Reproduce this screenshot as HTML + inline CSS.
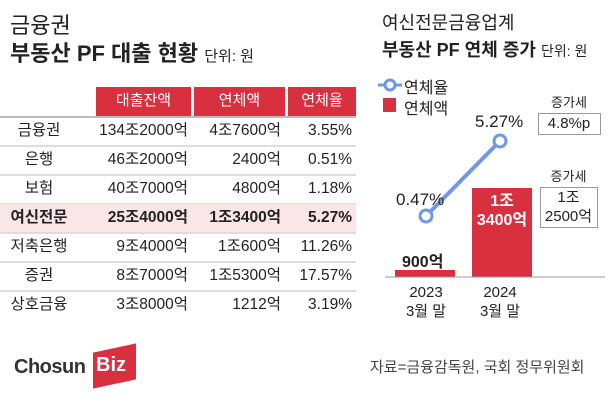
<!DOCTYPE html>
<html><head><meta charset="utf-8"><style>
body{margin:0;width:616px;height:400px;background:#fff;position:relative;overflow:hidden;font-family:"Liberation Sans","Noto Sans CJK KR",sans-serif;color:#222}
.a{position:absolute;white-space:nowrap}
.h{background:#d9303f;color:#fff;font-size:15px;text-align:center;line-height:28px;top:87px;height:29px}
.row{position:absolute;left:0;width:356px;height:28px;border-bottom:2px solid #ddd;font-size:15.5px;line-height:28px}
.row span{position:absolute}
.c0{left:0;width:78px;text-align:center}
.c1{right:168px}.c2{right:75px}.c3{right:4px}
</style></head><body>
<div class="a" style="left:10px;top:8px;font-size:22px">금융권</div>
<div class="a" style="left:10px;top:36px;font-size:22px;font-weight:bold">부동산 PF 대출 현황 <span style="font-size:15px;font-weight:normal">단위: 원</span></div>
<div class="a h" style="left:96px;width:95px">대출잔액</div>
<div class="a h" style="left:194px;width:91px">연체액</div>
<div class="a h" style="left:288px;width:68px">연체율</div>
<div class="a" style="left:0;top:116px;width:356px;border-top:2px solid #bbb"></div>
<div class="row" style="top:117px"><span class="c0">금융권</span><span class="c1">134조2000억</span><span class="c2">4조7600억</span><span class="c3">3.55%</span></div>
<div class="row" style="top:146px"><span class="c0">은행</span><span class="c1">46조2000억</span><span class="c2">2400억</span><span class="c3">0.51%</span></div>
<div class="row" style="top:175px"><span class="c0">보험</span><span class="c1">40조7000억</span><span class="c2">4800억</span><span class="c3">1.18%</span></div>
<div class="row" style="top:204px;background:#fae6e8;font-weight:bold"><span class="c0">여신전문</span><span class="c1">25조4000억</span><span class="c2">1조3400억</span><span class="c3">5.27%</span></div>
<div class="row" style="top:233px"><span class="c0">저축은행</span><span class="c1">9조4000억</span><span class="c2">1조600억</span><span class="c3">11.26%</span></div>
<div class="row" style="top:262px"><span class="c0">증권</span><span class="c1">8조7000억</span><span class="c2">1조5300억</span><span class="c3">17.57%</span></div>
<div class="row" style="top:291px;border-bottom:none"><span class="c0">상호금융</span><span class="c1">3조8000억</span><span class="c2">1212억</span><span class="c3">3.19%</span></div>
<div class="a" style="left:14px;top:356px;font-size:20px;font-weight:bold;color:#333;letter-spacing:-0.5px">Chosun</div>
<div class="a" style="left:93px;top:348px;width:43px;height:36px;background:#d9303f;transform:skewY(-12deg)"></div>
<div class="a" style="left:96px;top:354px;font-size:20px;font-weight:bold;color:#fff">Biz</div>
<div class="a" style="left:370px;top:356px;font-size:15px;color:#444">자료=금융감독원, 국회 정무위원회</div>

<div class="a" style="left:382px;top:9px;font-size:18px">여신전문금융업계</div>
<div class="a" style="left:382px;top:36px;font-size:18px;font-weight:bold">부동산 PF 연체 증가 <span style="font-size:14px;font-weight:normal">단위: 원</span></div>
<svg class="a" style="left:0;top:0" width="616" height="400">
<line x1="378" y1="85" x2="402" y2="85" stroke="#6f97e6" stroke-width="3"/><circle cx="390" cy="85" r="5" fill="#fff" stroke="#6f97e6" stroke-width="3"/>
<rect x="383" y="98" width="13" height="14" fill="#d9303f"/>
<rect x="395" y="270" width="60" height="7" fill="#d9303f"/>
<rect x="472" y="188" width="60" height="89" fill="#d9303f"/>
<line x1="385" y1="277" x2="605" y2="277" stroke="#999" stroke-width="1"/>
<line x1="426" y1="216" x2="500" y2="141" stroke="#6f97e6" stroke-width="4"/>
<circle cx="426" cy="216" r="6" fill="#fff" stroke="#6f97e6" stroke-width="3"/>
<circle cx="500" cy="141" r="6" fill="#fff" stroke="#6f97e6" stroke-width="3"/>
<rect x="538.5" y="113.5" width="62" height="21" fill="#fff" stroke="#999"/>
<rect x="540.5" y="187.5" width="57" height="40" fill="#fff" stroke="#999"/>
</svg>
<div class="a" style="left:404px;top:74px;font-size:16px">연체율</div>
<div class="a" style="left:404px;top:95px;font-size:16px">연체액</div>
<div class="a" style="left:475px;top:112px;font-size:17px">5.27%</div>
<div class="a" style="left:396px;top:190px;font-size:17px">0.47%</div>
<div class="a" style="left:402px;top:248px;font-size:16px;font-weight:bold">900억</div>
<div class="a" style="left:472px;top:192px;width:60px;text-align:center;font-size:16px;font-weight:bold;color:#fff;line-height:19px">1조<br>3400억</div>
<div class="a" style="left:538px;top:92px;width:62px;text-align:center;font-size:13px">증가세</div>
<div class="a" style="left:538px;top:114px;width:62px;text-align:center;font-size:15px;line-height:20px">4.8%p</div>
<div class="a" style="left:540px;top:166px;width:57px;text-align:center;font-size:13px">증가세</div>
<div class="a" style="left:540px;top:188px;width:57px;text-align:center;font-size:15px;line-height:19px">1조<br>2500억</div>
<div class="a" style="left:396px;top:283px;width:60px;text-align:center;font-size:15px;line-height:19px">2023<br>3월 말</div>
<div class="a" style="left:470px;top:283px;width:60px;text-align:center;font-size:15px;line-height:19px">2024<br>3월 말</div>
</body></html>
